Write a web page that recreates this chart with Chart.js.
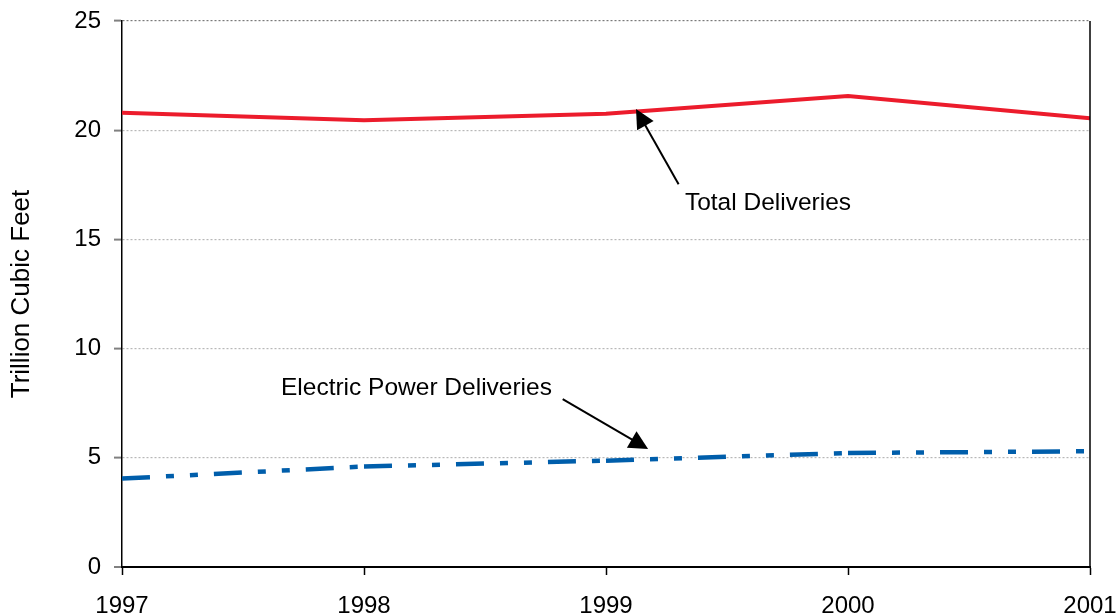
<!DOCTYPE html>
<html>
<head>
<meta charset="utf-8">
<script src="https://cdn.jsdelivr.net/npm/chart.js@4.4.1/dist/chart.umd.min.js"></script>
<style>
  html, body { margin: 0; padding: 0; background: #fff; }
  #wrap { width: 1118px; height: 616px; position: relative; }
</style>
</head>
<body>
<div id="wrap"><canvas id="c" width="1118" height="616"></canvas></div>
<script>
// ---- data ----
const years = [1997, 1998, 1999, 2000, 2001];
const totalDeliveries = [20.8, 20.45, 20.75, 21.57, 20.55];
const electricDeliveries = [4.05, 4.6, 4.87, 5.22, 5.3];
const yTicks = [0, 5, 10, 15, 20, 25];
const yTitle = 'Trillion Cubic Feet';
const totalLabel = 'Total Deliveries';
const electricLabel = 'Electric Power Deliveries';

// annotation placement (data units)
const notes = [
  { text: totalLabel, tx: 1999.326, ty: 16.67, from: [1999.30, 17.52], to: [1999.124, 20.97] },
  { text: electricLabel, tx: 1997.657, ty: 8.2, from: [1998.821, 7.69], to: [1999.174, 5.40] }
];

const FONT = '"Liberation Sans", Arial, sans-serif';

const annotPlugin = {
  id: 'annot',
  afterDatasetsDraw(chart) {
    const { ctx, scales: { x, y }, chartArea } = chart;
    ctx.save();
    // right frame line
    ctx.strokeStyle = '#000';
    ctx.lineWidth = 1.5;
    ctx.beginPath();
    ctx.moveTo(chartArea.right, chartArea.top);
    ctx.lineTo(chartArea.right, chartArea.bottom);
    ctx.stroke();
    ctx.font = '24.5px ' + FONT;
    ctx.fillStyle = '#000';
    ctx.textBaseline = 'middle';
    ctx.textAlign = 'left';
    notes.forEach(n => {
      ctx.fillText(n.text, x.getPixelForValue(n.tx), y.getPixelForValue(n.ty));
      const x0 = x.getPixelForValue(n.from[0]), y0 = y.getPixelForValue(n.from[1]);
      const x1 = x.getPixelForValue(n.to[0]), y1 = y.getPixelForValue(n.to[1]);
      const dx = x1 - x0, dy = y1 - y0, L = Math.hypot(dx, dy);
      const ux = dx / L, uy = dy / L;
      const hl = 19, hw = 9.5;
      const bx = x1 - ux * hl, by = y1 - uy * hl;
      ctx.strokeStyle = '#000';
      ctx.lineWidth = 2;
      ctx.beginPath();
      ctx.moveTo(x0, y0);
      ctx.lineTo(bx + ux * 2, by + uy * 2);
      ctx.stroke();
      ctx.beginPath();
      ctx.moveTo(x1, y1);
      ctx.lineTo(bx - uy * hw, by + ux * hw);
      ctx.lineTo(bx + uy * hw, by - ux * hw);
      ctx.closePath();
      ctx.fill();
    });
    ctx.restore();
  }
};

function zeroPad(s) {
  s.paddingTop = 0; s.paddingBottom = 0; s.paddingLeft = 0; s.paddingRight = 0;
}

new Chart(document.getElementById('c'), {
  type: 'line',
  data: {
    datasets: [
      {
        label: totalLabel,
        data: years.map((yr, i) => ({ x: yr, y: totalDeliveries[i] })),
        borderColor: '#EC1C2C',
        borderWidth: 4,
        pointRadius: 0,
        tension: 0,
        fill: false
      },
      {
        label: electricLabel,
        data: years.map((yr, i) => ({ x: yr, y: electricDeliveries[i] })),
        borderColor: '#005EAB',
        borderWidth: 4.5,
        borderCapStyle: 'butt',
        pointRadius: 0,
        tension: 0,
        fill: false,
        segment: {
          borderDash: () => [28, 16, 8, 16, 8, 16],
          borderDashOffset: ctx => (ctx.p0DataIndex % 2 ? 0.0001 : 0)
        }
      }
    ]
  },
  options: {
    responsive: false,
    animation: false,
    devicePixelRatio: 1,
    layout: { padding: { top: 21, right: 28, bottom: 0, left: 0 } },
    plugins: { legend: { display: false }, tooltip: { enabled: false } },
    scales: {
      x: {
        type: 'linear',
        min: years[0],
        max: years[years.length - 1],
        afterBuildTicks: s => { s.ticks = years.map(v => ({ value: v })); },
        afterFit: s => { s.height = 49; zeroPad(s); },
        ticks: {
          callback: v => String(v),
          color: '#000',
          font: { family: FONT, size: 24 },
          padding: 17,
          maxRotation: 0,
          autoSkip: false
        },
        grid: { drawOnChartArea: false, drawTicks: true, tickLength: 8, tickColor: '#000', tickWidth: 1.5 },
        border: { display: true, color: '#000', width: 2 }
      },
      y: {
        min: 0,
        max: 25,
        afterBuildTicks: s => { s.ticks = yTicks.map(v => ({ value: v })); },
        afterFit: s => { s.width = 122; zeroPad(s); },
        ticks: {
          color: '#000',
          font: { family: FONT, size: 24 },
          padding: 13
        },
        grid: {
          color: c => (c.tick && c.tick.value === 25 ? '#7a7a7a' : '#b8b8b8'),
          lineWidth: c => (c.tick && c.tick.value === 0 ? 0 : 1.2),
          tickLength: 8,
          tickColor: '#808080',
          tickWidth: 2
        },
        border: { display: true, color: '#000', width: 1.5, dash: [2, 2] },
        title: {
          display: true,
          text: yTitle,
          color: '#000',
          font: { family: FONT, size: 26 },
          padding: { top: 6, bottom: 0 }
        }
      }
    }
  },
  plugins: [annotPlugin]
});
</script>
</body>
</html>
